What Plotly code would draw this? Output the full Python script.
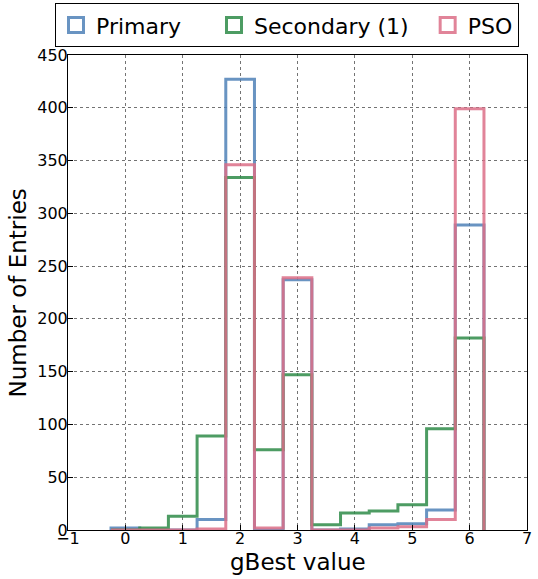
import plotly.graph_objects as go

# Histogram data (bin centers, width 0.5)
bin_centers = [0, 0.5, 1, 1.5, 2, 2.5, 3, 3.5, 4, 4.5, 5, 5.5, 6]
bin_width = 0.5
primary = [2, 0, 0, 10, 427, 0, 237, 0, 1, 5, 6, 19, 289]
secondary = [0, 2, 13, 89, 334, 76, 147, 5, 16, 18, 24, 96, 182]
pso = [0, 0, 0, 1, 346, 2, 239, 0, 0, 2, 3, 10, 399]
legend_labels = ["Primary", "Secondary (1)", "PSO"]
x_title = "gBest value"
y_title = "Number of Entries"

colors = ["rgba(79,129,183,0.85)", "rgba(46,139,72,0.85)", "rgba(220,110,135,0.85)"]
series = list(zip(legend_labels, [primary, secondary, pso], colors))
pads = ["\u00a0" * 4, "\u00a0" * 2, ""]

edges = [c - bin_width / 2 for c in bin_centers] + [bin_centers[-1] + bin_width / 2]

fig = go.Figure()
for name, vals, col in series:
    xs = [edges[0]] + edges + [edges[-1]]
    ys = [0] + list(vals) + [vals[-1], 0]
    fig.add_trace(go.Scatter(x=xs, y=ys, mode="lines", line=dict(color=col, width=3, shape="hv"),
                             showlegend=False, hoverinfo="skip"))

for (name, vals, col), pad in zip(series, pads):
    fig.add_trace(go.Scatter(x=[None], y=[None], mode="markers", name=name + pad,
                             marker=dict(symbol="square-open", size=15, color=col,
                                         line=dict(color=col, width=3))))

fig.update_layout(
    width=538, height=579,
    margin=dict(l=68, r=11, t=55, b=49, autoexpand=False),
    plot_bgcolor="white", paper_bgcolor="white",
    font=dict(family="DejaVu Sans", color="black", size=16),
    legend=dict(orientation="h", x=-0.0283, xanchor="left", y=1.109, yanchor="top",
                bordercolor="black", borderwidth=1, font=dict(size=22),
                bgcolor="white", itemwidth=30),
    showlegend=True,
    annotations=[
        dict(text=x_title, xref="paper", yref="paper", x=0.5, y=-0.0674, xanchor="center",
             yanchor="middle", showarrow=False, font=dict(size=23)),
        dict(text=y_title, xref="paper", yref="paper", x=-0.109, y=0.5, xanchor="center",
             yanchor="middle", showarrow=False, textangle=-90, font=dict(size=23)),
    ],
)
fig.update_xaxes(range=[-1, 7], dtick=1, showline=True, linecolor="black", linewidth=1, mirror=True,
                 showgrid=True, gridcolor="rgba(0,0,0,0.55)", griddash="dot", gridwidth=1,
                 ticks="inside", ticklen=5, tickcolor="black", zeroline=False, automargin=False,
                 tickfont=dict(size=16), ticklabelstandoff=-6)
fig.update_yaxes(range=[0, 450], dtick=50, showline=True, linecolor="black", linewidth=1, mirror=True,
                 showgrid=True, gridcolor="rgba(0,0,0,0.55)", griddash="dot", gridwidth=1,
                 ticks="inside", ticklen=5, tickcolor="black", zeroline=False, automargin=False,
                 tickfont=dict(size=16), ticklabelstandoff=-4)

fig.write_html("out.html")
